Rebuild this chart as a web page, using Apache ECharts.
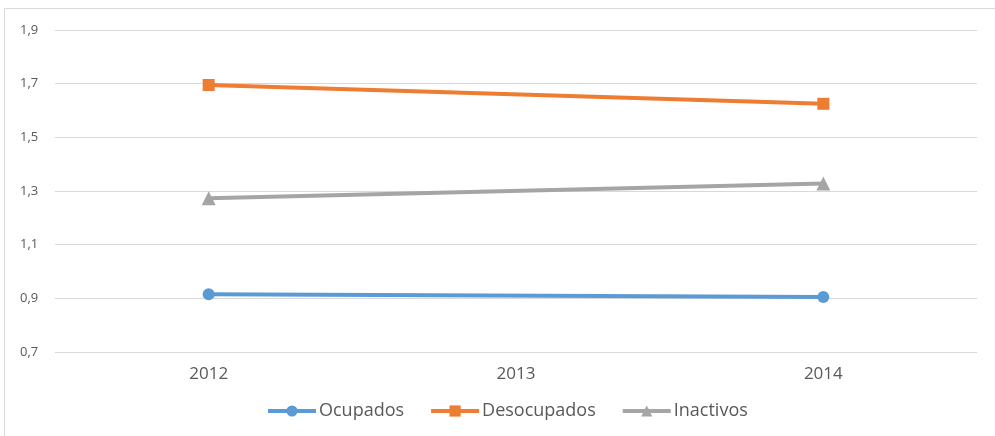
<!DOCTYPE html>
<html>
<head>
<meta charset="utf-8">
<script src="https://cdn.jsdelivr.net/npm/echarts@6/dist/echarts.min.js"></script>
<style>
    html, body { margin: 0; padding: 0; background: #fff; }
    #container { width: 995px; height: 436px; }
</style>
</head>
<body>
<div id="container"></div>
<script type="text/javascript">
    // data (2013 has no point, the line just joins 2012 and 2014)
    var years = ['2012', '2013', '2014'];
    var ocupados = [0.915, null, 0.905];
    var desocupados = [1.695, null, 1.625];
    var inactivos = [1.273, null, 1.328];
    var yTicks = { min: 0.7, max: 1.9, step: 0.2 };

    var myChart = echarts.init(document.getElementById('container'));

    function serie(name, data, color, symbol, size) {
        return {
            name: name,
            type: 'line',
            data: data,
            connectNulls: true,
            symbol: symbol,
            symbolSize: size,
            lineStyle: { color: color, width: 4 },
            itemStyle: { color: color },
            emphasis: { disabled: true }
        };
    }

    var option = {
        animation: false,
        textStyle: { fontFamily: '"Open Sans", "DejaVu Sans", sans-serif' },
        graphic: [{
            type: 'rect',
            shape: { x: 4.5, y: 8.5, width: 1000, height: 440 },
            style: { fill: 'none', stroke: '#d9d9d9', lineWidth: 1 },
            silent: true
        }],
        grid: { left: 55, right: 18, top: 30, bottom: 84 },
        legend: {
            bottom: 16,
            left: 266,
            padding: 0,
            itemWidth: 48,
            itemHeight: 14,
            itemGap: 25,
            lineStyle: { width: 4 },
            textStyle: { color: '#595959', fontSize: 18, padding: [0, 0, 0, -2] },
            data: ['Ocupados', 'Desocupados', 'Inactivos']
        },
        xAxis: {
            type: 'category',
            data: years,
            boundaryGap: true,
            axisLine: { show: false },
            axisTick: { show: false },
            axisLabel: { color: '#595959', fontSize: 17, margin: 14 }
        },
        yAxis: {
            type: 'value',
            min: yTicks.min,
            max: yTicks.max,
            interval: yTicks.step,
            axisLabel: {
                color: '#595959',
                fontSize: 13,
                margin: 35,
                align: 'left',
                formatter: function (v) { return v.toFixed(1).replace('.', ','); }
            },
            splitLine: { lineStyle: { color: '#d9d9d9', width: 1 } }
        },
        series: [
            serie('Ocupados', ocupados, '#5b9bd5', 'circle', 12),
            serie('Desocupados', desocupados, '#ed7d31', 'rect', 12),
            serie('Inactivos', inactivos, '#a5a5a5', 'triangle', 14)
        ]
    };

    myChart.setOption(option);
</script>
</body>
</html>
